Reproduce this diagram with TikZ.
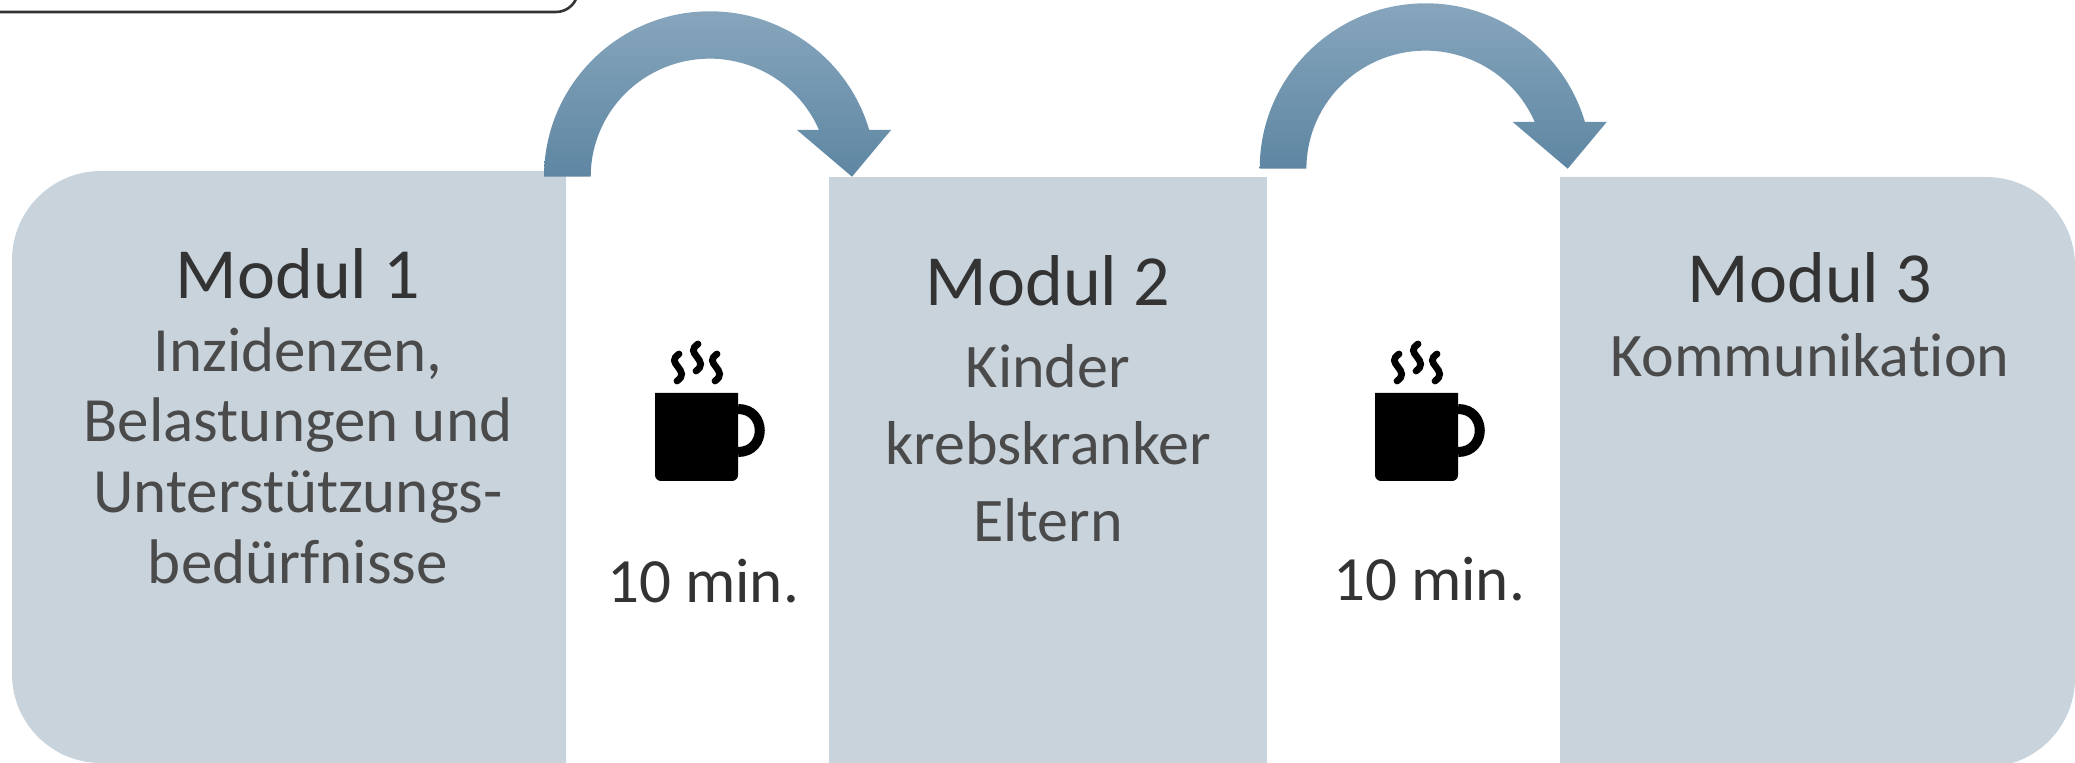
\documentclass[tikz,border=0pt]{standalone}
\usepackage{fontspec}
\setmainfont[Ligatures=NoCommon]{Carlito}
\definecolor{boxc}{HTML}{C9D3DC}
\definecolor{arrowtop}{HTML}{87A6BD}
\definecolor{arrowbot}{HTML}{5E86A2}
\definecolor{headc}{HTML}{333333}
\definecolor{bodyc}{HTML}{4A4A4A}
\tikzset{
  panel/.style={fill=boxc,rounded corners=44.5pt},
  heading/.style={inner sep=0pt,anchor=base,text=headc,font=\fontsize{36}{42}\selectfont},
  bodytext/.style={inner sep=0pt,anchor=north,align=center,text=bodyc,font=\fontsize{31.5}{35.4}\selectfont},
  bodywide/.style={bodytext,font=\fontsize{31}{38.4}\selectfont},
  pausetext/.style={inner sep=0pt,anchor=base,text=headc,font=\fontsize{31.5}{36}\selectfont},
  steam/.style={draw=black,line width=3.4pt,line cap=round},
  curvedarrow/.pic={
    \shade[top color=arrowtop,bottom color=arrowbot]
      (544,176.7) arc[start angle=180,end angle=343.6,x radius=166,y radius=165.4]
      -- (891,130) -- (852,176.7) -- (797,130) -- (819,130)
      arc[start angle=336.7,end angle=180,x radius=119,y radius=118] -- cycle;
  },
  mug/.pic={
    \fill[black,rounded corners=3pt] (738,393) -- (738,481) -- (655,481) -- (655,393);
    \draw[black,line width=5pt] (738,409) .. controls (767,409) and (767,452) .. (738,452);
    \foreach \sx/\sy in {678/352, 697/342, 716/352}{
      \draw[steam] (\sx+1,\sy+2) .. controls (\sx-6,\sy+7) and (\sx-4,\sy+10) .. (\sx,\sy+15)
        .. controls (\sx+4,\sy+20) and (\sx+6,\sy+24) .. (\sx-1,\sy+29);
    }
  }
}
\begin{document}
\begin{tikzpicture}[x=0.5pt,y=-0.5pt]
\useasboundingbox (0,0) rectangle (2075,763);
\begin{scope}
\clip (0,0) rectangle (2075,763);
\draw[draw=headc,line width=1.3pt,rounded corners=11pt] (-10,12) -- (578,12) -- (578,-30);
\fill[panel] (566,171) -- (12,171) -- (12,763) -- (566,763);
\fill[boxc] (829,177) rectangle (1267,763);
\fill[panel] (1560,177) -- (2075,177) -- (2075,767) -- (1560,767);
\end{scope}
\pic {curvedarrow};
\begin{scope}[shift={(715.7,-8)}]
\pic {curvedarrow};
\end{scope}
\pic {mug};
\begin{scope}[shift={(720,0)}]
\pic {mug};
\end{scope}
\node[heading] (m1) at (298,298.5) {Modul 1};
\node[heading] (m2) at (1048,306) {Modul 2};
\node[heading] (m3) at (1810,303) {Modul 3};
\node[bodytext] (b1) at (298,327) {Inzidenzen,\\Belastungen und\\Unterstützungs-\\bedürfnisse};
\node[bodywide] (b2) at (1048,344) {Kinder\\krebskranker\\Eltern};
\node[bodywide] (b3) at (1810,333) {Kommunikation};
\node[pausetext] (p1) at (703,603) {10 min.};
\node[pausetext] (p2) at (1429,601) {10 min.};
\end{tikzpicture}
\end{document}
